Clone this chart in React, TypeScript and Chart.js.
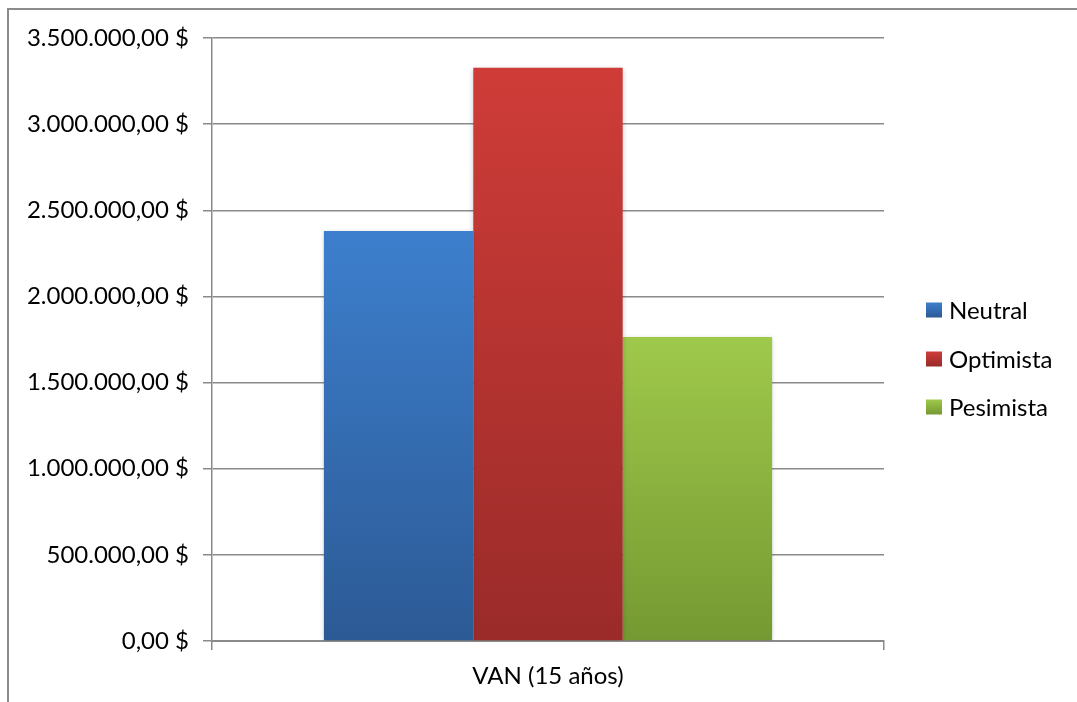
import React, { useEffect, useRef } from "react";
import { Chart, registerables } from "chart.js";

Chart.register(...registerables);

const categories = ["VAN (15 años)"];
const seriesNames = ["Neutral", "Optimista", "Pesimista"];
const neutralValues = [2380000];
const optimistaValues = [3327000];
const pesimistaValues = [1765000];
const yTicks = [0, 500000, 1000000, 1500000, 2000000, 2500000, 3000000, 3500000];

const gradTop = ["#3d7fcd", "#cf3c38", "#9fc94b"];
const gradBottom = ["#2c5a95", "#9a2b29", "#759932"];

const FONT = "Lato, 'Open Sans', sans-serif";

function fmt(v: number): string {
  const s = Math.round(v).toString();
  let out = "";
  for (let i = 0; i < s.length; i++) {
    const fromEnd = s.length - i;
    out += s[i];
    if (fromEnd > 1 && (fromEnd - 1) % 3 === 0) out += ".";
  }
  return out + ",00 $";
}

export default function App() {
  const ref = useRef<HTMLCanvasElement | null>(null);

  useEffect(() => {
    if (!ref.current) return;
    const seriesValues = [neutralValues, optimistaValues, pesimistaValues];

    const barGradient = (i: number) => (c: any) => {
      const chart = c.chart;
      const area = chart.chartArea;
      if (!area) return gradTop[i];
      const yScale = chart.scales.y;
      const v = c.raw ?? seriesValues[i][0];
      const top = yScale.getPixelForValue(v);
      const bottom = yScale.getPixelForValue(0);
      const g = chart.ctx.createLinearGradient(0, top, 0, bottom);
      g.addColorStop(0, gradTop[i]);
      g.addColorStop(1, gradBottom[i]);
      return g;
    };

    const frame = {
      id: "frame",
      beforeDraw(chart: any) {
        const ctx = chart.ctx;
        ctx.save();
        ctx.fillStyle = "#ffffff";
        ctx.fillRect(0, 0, chart.width, chart.height);
        ctx.strokeStyle = "#8c8c8c";
        ctx.lineWidth = 2;
        ctx.beginPath();
        ctx.moveTo(8, chart.height);
        ctx.lineTo(8, 9);
        ctx.lineTo(chart.width, 9);
        ctx.stroke();
        ctx.restore();
      },
    };

    const shadow = {
      id: "barShadow",
      beforeDatasetsDraw(chart: any) {
        const ctx = chart.ctx;
        ctx.save();
        ctx.shadowColor = "rgba(0,0,0,0.22)";
        ctx.shadowBlur = 5;
        ctx.shadowOffsetX = 0;
        ctx.shadowOffsetY = 1;
      },
      afterDatasetsDraw(chart: any) {
        chart.ctx.restore();
      },
    };

    const legendPlugin = {
      id: "customLegend",
      afterDraw(chart: any) {
        const ctx = chart.ctx;
        ctx.save();
        ctx.font = "24px " + FONT;
        ctx.textBaseline = "middle";
        ctx.fillStyle = "#000000";
        const rows = [310, 359, 407];
        chart.data.datasets.forEach((ds: any, i: number) => {
          const y = rows[i];
          const g = ctx.createLinearGradient(0, y - 7.5, 0, y + 7.5);
          g.addColorStop(0, gradTop[i]);
          g.addColorStop(1, gradBottom[i]);
          ctx.fillStyle = g;
          ctx.fillRect(926, y - 7.5, 16, 15);
          ctx.fillStyle = "#000000";
          ctx.fillText(ds.label, 949, y + 1);
        });
        ctx.restore();
      },
    };

    const chart = new Chart(ref.current, {
      type: "bar",
      data: {
        labels: categories,
        datasets: seriesNames.map((name, i) => ({
          label: name,
          data: seriesValues[i],
          backgroundColor: barGradient(i),
          borderWidth: 0,
          categoryPercentage: 0.667,
          barPercentage: 1,
        })),
      },
      options: {
        responsive: false,
        animation: false,
        events: [],
        layout: { padding: { top: 38, right: 193, left: 0, bottom: 0 } },
        plugins: { legend: { display: false }, tooltip: { enabled: false } },
        scales: {
          x: {
            offset: true,
            afterFit: (s: any) => {
              s.height = 61;
            },
            grid: {
              offset: true,
              drawOnChartArea: false,
              drawTicks: true,
              tickLength: 9,
              color: "#8a8a8a",
              lineWidth: 1.5,
            },
            border: { display: true, color: "#8a8a8a", width: 2 },
            ticks: {
              color: "#000000",
              font: { family: FONT, size: 24 },
              padding: 12,
            },
          },
          y: {
            min: 0,
            max: 3500000,
            afterFit: (s: any) => {
              s.width = 212;
            },
            afterBuildTicks: (s: any) => {
              s.ticks = yTicks.map((v) => ({ value: v }));
            },
            grid: {
              color: "#8a8a8a",
              lineWidth: 1.5,
              drawTicks: true,
              tickLength: 9,
            },
            border: { display: true, color: "#8a8a8a", width: 1.5 },
            ticks: {
              color: "#000000",
              font: { family: FONT, size: 24 },
              padding: 14,
              callback: (v: any) => fmt(Number(v)),
            },
          },
        },
      },
      plugins: [frame, shadow, legendPlugin],
    });

    return () => chart.destroy();
  }, []);

  return (
    <div style={{ position: "fixed", left: 0, top: 0, width: 1077, height: 702 }}>
      <canvas ref={ref} width={1077} height={702} style={{ width: 1077, height: 702, display: "block" }} />
    </div>
  );
}
